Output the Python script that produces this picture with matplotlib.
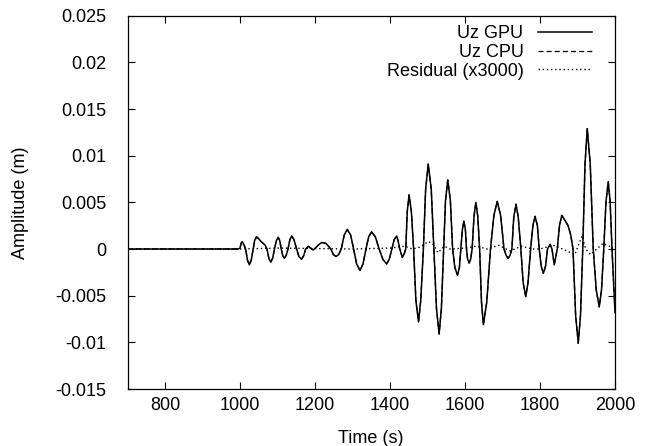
import matplotlib
matplotlib.use('Agg')
import matplotlib.pyplot as plt

plt.rcParams['font.family'] = ['Liberation Sans', 'DejaVu Sans']

# Uz trace (time in s, amplitude in m)
time_uz = [700, 995, 1000, 1003, 1006, 1010, 1015, 1020, 1025, 1030, 1035, 1039,
           1044, 1050, 1056, 1062, 1067, 1072, 1077, 1082, 1087, 1092, 1097, 1102,
           1106, 1110, 1114, 1118, 1123, 1128, 1133, 1138, 1144, 1151, 1157, 1164,
           1170, 1175, 1182, 1188, 1195, 1201, 1208, 1218, 1229, 1236, 1242, 1249,
           1256, 1263, 1270, 1278, 1286, 1295, 1303, 1311, 1320, 1328, 1336, 1343,
           1351, 1361, 1371, 1381, 1391, 1398, 1405, 1411, 1418, 1422, 1426, 1433,
           1438, 1442, 1446, 1451, 1457, 1463, 1469, 1476, 1482, 1489, 1495, 1502,
           1510, 1517, 1524, 1531, 1537, 1543, 1548, 1554, 1561, 1567, 1573, 1580,
           1585, 1589, 1593, 1597, 1601, 1604, 1607, 1611, 1615, 1619, 1624, 1629,
           1634, 1639, 1644, 1649, 1658, 1668, 1677, 1686, 1695, 1704, 1710, 1715,
           1720, 1725, 1730, 1736, 1742, 1749, 1755, 1762, 1768, 1775, 1781, 1787,
           1793, 1798, 1803, 1809, 1815, 1820, 1827, 1832, 1838, 1846, 1852, 1858,
           1866, 1875, 1882, 1888, 1895, 1902, 1908, 1914, 1920, 1926, 1934, 1942,
           1950, 1958, 1964, 1970, 1976, 1982, 1987, 1992, 2000]
uz_gpu = [0.0, 0.0, 0.0001, 0.0006, 0.0008, 0.0005, 0.0, -0.0012, -0.0017, -0.0012, 0.0, 0.0009,
          0.0013, 0.0011, 0.0008, 0.0006, 0.0004, 0.0, -0.0010, -0.0014, -0.0010, 0.0, 0.0009, 0.00125,
          0.0009, 0.0, -0.0007, -0.0010, -0.0007, 0.0, 0.0010, 0.0014, 0.0010, 0.0, -0.0008, -0.0011,
          -0.0007, 0.0, 0.0003, 0.0001, -0.0001, 0.0001, 0.0004, 0.0007, 0.0006, 0.0003, 0.0, -0.0006,
          -0.0008, -0.0006, 0.0, 0.0015, 0.0021, 0.0015, 0.0, -0.0016, -0.0023, -0.0016, 0.0, 0.0013,
          0.00185, 0.0013, 0.0, -0.0011, -0.0016, -0.0011, 0.0, 0.0010, 0.0014, 0.0008, 0.0, -0.0009,
          -0.0005, 0.0, 0.0040, 0.0058, 0.0040, 0.0, -0.0055, -0.0078, -0.0055, 0.0, 0.0064, 0.0091,
          0.0064, 0.0, -0.0064, -0.0091, -0.0064, 0.0, 0.0052, 0.0074, 0.0052, 0.0, -0.0020, -0.0028,
          -0.0020, 0.0, 0.0021, 0.0030, 0.0021, 0.0, -0.0011, -0.0015, -0.0011, 0.0, 0.0035, 0.0050,
          0.0035, 0.0, -0.0057, -0.0081, -0.0057, 0.0, 0.0036, 0.0051, 0.0036, 0.0, -0.0007, -0.0010,
          -0.0007, 0.0, 0.0034, 0.0048, 0.0034, 0.0, -0.0036, -0.0051, -0.0036, 0.0, 0.0025, 0.0035,
          0.0025, 0.0, -0.0018, -0.0026, -0.0018, 0.0, 0.0005, 0.0, -0.0017, 0.0, 0.0025, 0.0036,
          0.0031, 0.0025, 0.0015, 0.0, -0.0071, -0.0101, -0.0071, 0.0, 0.0091, 0.0129, 0.0091, 0.0,
          -0.0044, -0.0062, -0.0044, 0.0, 0.0051, 0.0072, 0.0051, 0.0, -0.0068]
uz_cpu = list(uz_gpu)  # the two solutions overlap in the reference

# residual (x3000)
time_res = [700, 1000, 1100, 1300, 1400, 1440, 1460, 1480, 1502, 1515, 1528, 1545,
            1560, 1600, 1630, 1660, 1690, 1720, 1750, 1780, 1800, 1835, 1860, 1893,
            1912, 1922, 1935, 1968, 1985, 2000]
residual = [0.0, 0.0, 0.0001, 0.0, 0.0001, 0.0003, 0.0, 0.0002, 0.0008, 0.0005, -0.0004, 0.0003,
            0.0, 0.0001, 0.0003, 0.0, 0.0004, -0.0002, 0.0003, 0.0, 0.0, 0.0004, 0.0, -0.0006,
            0.0014, 0.0, -0.0006, 0.0006, 0.0003, -0.0003]

xticks = [800, 1000, 1200, 1400, 1600, 1800, 2000]
yticks = [-0.015, -0.01, -0.005, 0, 0.005, 0.01, 0.015, 0.02, 0.025]
ytick_labels = ['-0.015', '-0.01', '-0.005', '0', '0.005', '0.01', '0.015', '0.02', '0.025']

fig = plt.figure(figsize=(6.51, 4.46), dpi=100)
ax = fig.add_axes([127.5/651, 1 - 389/446, 487.5/651, 373.3/446])

ax.plot(time_uz, uz_gpu, color='black', lw=1.1, ls='-', label='Uz GPU')
ax.plot(time_uz, uz_cpu, color='black', lw=0.9, ls=(0, (4, 2.5)), label='Uz CPU')
ax.plot(time_res, residual, color='black', lw=1.0, ls=(0, (1, 2)), label='Residual (x3000)')

ax.set_xlim(700, 2000)
ax.set_ylim(-0.015, 0.025)
ax.set_xticks(xticks)
ax.set_yticks(yticks)
ax.set_yticklabels(ytick_labels)
ax.tick_params(direction='in', length=5, width=0.8, top=True, right=True, labelsize=13)
ax.tick_params(axis='x', pad=6)
ax.tick_params(axis='y', pad=15)
for s in ax.spines.values():
    s.set_linewidth(0.9)

ax.set_xlabel('Time (s)', fontsize=13, labelpad=11)
ax.set_ylabel('Amplitude (m)', fontsize=13, labelpad=19)

ax.legend(loc='upper right', bbox_to_anchor=(0.953, 0.975), frameon=False,
          markerfirst=False, fontsize=13, handlelength=3.0, handletextpad=0.8,
          labelspacing=0.1, borderpad=0, borderaxespad=0)

fig.savefig('out.png', dpi=100)
